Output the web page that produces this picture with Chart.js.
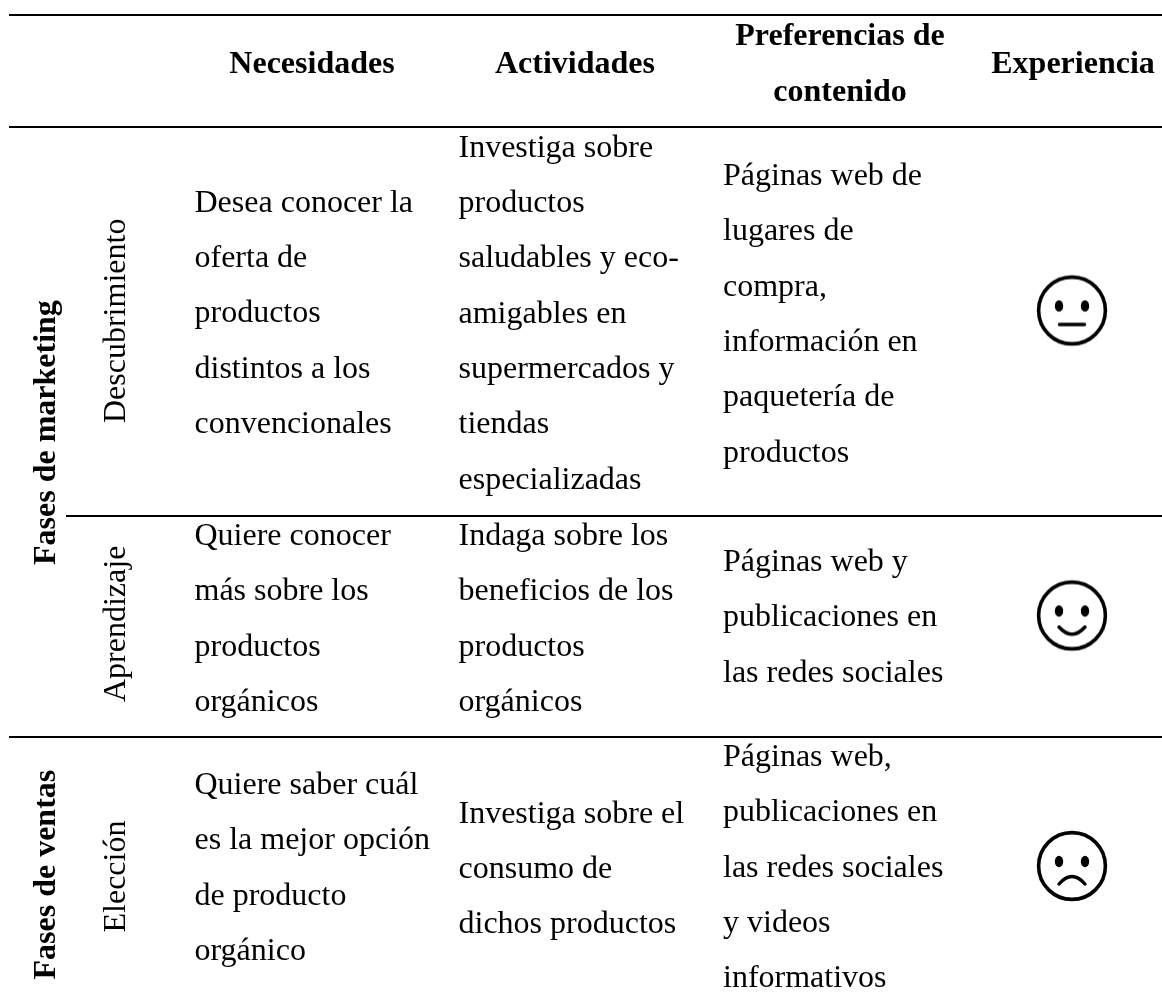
<!DOCTYPE html>
<html lang="es">
<head>
<meta charset="utf-8">
<title>Fases de marketing y ventas</title>
<script src="https://cdn.jsdelivr.net/npm/chart.js@4"></script>
<style>
    html, body { margin: 0; padding: 0; background: #ffffff; }
    canvas { display: block; }
</style>
</head>
<body>
<canvas id="journeyChart" width="1162" height="1007"></canvas>
<script>
// Table content
const headers = ['Necesidades', 'Actividades', ['Preferencias de', 'contenido'], 'Experiencia'];
const phases = ['Fases de marketing', 'Fases de ventas'];
const stages = ['Descubrimiento', 'Aprendizaje', 'Elección'];
const needs = [
    ['Desea conocer la', 'oferta de', 'productos', 'distintos a los', 'convencionales'],
    ['Quiere conocer', 'más sobre los', 'productos', 'orgánicos'],
    ['Quiere saber cuál', 'es la mejor opción', 'de producto', 'orgánico']
];
const activities = [
    ['Investiga sobre', 'productos', 'saludables y eco-', 'amigables en', 'supermercados y', 'tiendas', 'especializadas'],
    ['Indaga sobre los', 'beneficios de los', 'productos', 'orgánicos'],
    ['Investiga sobre el', 'consumo de', 'dichos productos']
];
const preferences = [
    ['Páginas web de', 'lugares de', 'compra,', 'información en', 'paquetería de', 'productos'],
    ['Páginas web y', 'publicaciones en', 'las redes sociales'],
    ['Páginas web,', 'publicaciones en', 'las redes sociales', 'y videos', 'informativos']
];
// 1 = happy, 0 = neutral, -1 = sad
const experience = [0, 1, -1];

// Layout, in page pixels
const ruleY = [15, 127, 516, 737];
const ruleStart = [9, 9, 66, 9];
const headerCenterX = [312, 575, 840, 1073];
const headerBaseline = [72.7, 72.7, 44.5, 72.7];
const cellX = [194.5, 458.5, 723];
const firstBaseline = [
    [211.7, 545, 794],
    [156.7, 545, 822.7],
    [185, 571, 766]
];
const lineHeight = 55.3;
const phaseStartY = [565, 979.5];
const stageStartY = [423, 702, 932.5];
const faceX = 1072;
const faceY = [310.5, 615.5, 866];
const PAGE_W = 1162;
const PAGE_H = 1007;
const SERIF = '"Liberation Serif", "Times New Roman", serif';

// Face marker drawn on a small canvas
function makeFace(score) {
    const canvas = document.createElement('canvas');
    canvas.width = 80;
    canvas.height = 80;
    const ctx = canvas.getContext('2d');
    ctx.translate(40, 40);
    ctx.strokeStyle = '#000000';
    ctx.fillStyle = '#000000';
    ctx.lineWidth = 3.6;
    ctx.beginPath();
    ctx.arc(0, 0, 33.4, 0, Math.PI * 2);
    ctx.stroke();

    [-13, 13].forEach(x => {
        ctx.beginPath();
        ctx.ellipse(x, -4.5, 4.2, 5.8, 0, 0, Math.PI * 2);
        ctx.fill();
    });

    ctx.lineCap = 'round';
    ctx.lineWidth = 3.4;
    ctx.beginPath();
    if (score > 0) {
        ctx.moveTo(-13, 11.5);
        ctx.quadraticCurveTo(0, 26, 13, 11.5);
    } else if (score < 0) {
        ctx.moveTo(-13, 18);
        ctx.quadraticCurveTo(0, 3, 13, 18);
    } else {
        ctx.moveTo(-12.5, 14);
        ctx.lineTo(12.5, 14);
    }
    ctx.stroke();
    return canvas;
}

// Text is drawn through the scales, same as the marks
const tableText = {
    id: 'tableText',
    afterDatasetsDraw(chart) {
        const { ctx, scales } = chart;
        const px = v => scales.x.getPixelForValue(v);
        const py = v => scales.y.getPixelForValue(v);

        ctx.save();
        ctx.fillStyle = '#000000';
        ctx.textBaseline = 'alphabetic';

        // Header row
        ctx.font = 'bold 32px ' + SERIF;
        ctx.textAlign = 'center';
        headers.forEach((header, i) => {
            const lines = Array.isArray(header) ? header : [header];
            lines.forEach((line, j) => {
                ctx.fillText(line, px(headerCenterX[i]), py(headerBaseline[i] + j * 56.2));
            });
        });

        // Body cells
        ctx.font = '32px ' + SERIF;
        ctx.textAlign = 'left';
        [needs, activities, preferences].forEach((column, c) => {
            column.forEach((lines, r) => {
                lines.forEach((line, j) => {
                    ctx.fillText(line, px(cellX[c]), py(firstBaseline[c][r] + j * lineHeight));
                });
            });
        });

        // Rotated labels
        const drawRotated = (text, x, y) => {
            ctx.save();
            ctx.translate(px(x), py(y));
            ctx.rotate(-Math.PI / 2);
            ctx.fillText(text, 0, 0);
            ctx.restore();
        };
        ctx.font = 'bold 32px ' + SERIF;
        phases.forEach((phase, i) => drawRotated(phase, 54.5, phaseStartY[i]));
        ctx.font = '32px ' + SERIF;
        stages.forEach((stage, i) => drawRotated(stage, 124.5, stageStartY[i]));

        ctx.restore();
    }
};

function initChart() {
    const ruleSets = ruleY.map((y, i) => ({
        type: 'line',
        data: [{ x: ruleStart[i], y: y }, { x: PAGE_W, y: y }],
        borderColor: '#000000',
        borderWidth: 2,
        pointRadius: 0,
        fill: false
    }));

    new Chart(document.getElementById('journeyChart'), {
        type: 'scatter',
        data: {
            datasets: [
                ...ruleSets,
                {
                    label: 'Experiencia',
                    data: experience.map((score, i) => ({ x: faceX, y: faceY[i] })),
                    pointStyle: experience.map(makeFace),
                    pointRadius: 35,
                    showLine: false
                }
            ]
        },
        options: {
            responsive: false,
            animation: false,
            layout: { padding: 0, autoPadding: false },
            plugins: {
                legend: { display: false },
                tooltip: { enabled: false }
            },
            scales: {
                x: { type: 'linear', display: false, min: 0, max: PAGE_W },
                y: { type: 'linear', display: false, min: 0, max: PAGE_H, reverse: true }
            }
        },
        plugins: [tableText]
    });
}

document.addEventListener('DOMContentLoaded', initChart);
</script>
</body>
</html>
